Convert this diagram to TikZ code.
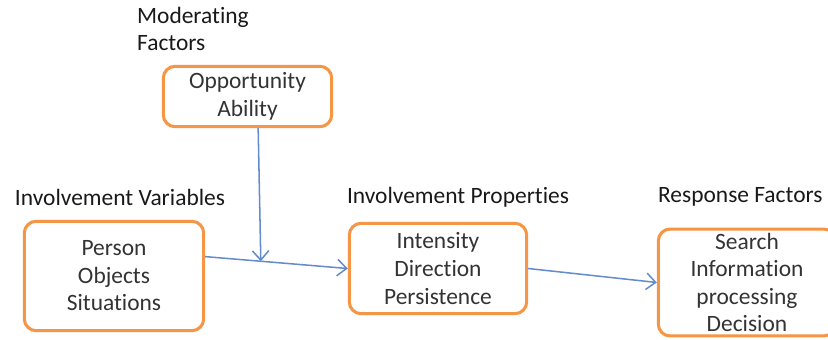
\documentclass[tikz,border=0pt]{standalone}
\usepackage{fontspec}
\setmainfont{Carlito}[Ligatures=NoCommon]
\usetikzlibrary{arrows.meta}
\definecolor{boxorange}{RGB}{244,150,70}
\definecolor{lineblue}{RGB}{100,140,205}

\begin{document}
\begin{tikzpicture}[x=0.03cm,y=-0.03cm,
        bxorange/.style={draw=boxorange,line width=2.6pt,rounded corners=10pt,
          fill=white,align=center,text=black!80,font=\fontsize{20}{23.5}\selectfont},
        lbl/.style={align=left,text=black!90,font=\fontsize{20}{23}\selectfont},
        conn/.style={draw=lineblue,line width=1.3pt,-{Straight Barb[length=8pt,width=14pt]}}
      ]

      \useasboundingbox (0,0) rectangle (828,340);

      \node[lbl,anchor=north west] (modlbl) at (133,3) {Moderating\\Factors};
      \node[lbl] (varlbl) at (120,197) {Involvement Variables};
      \node[lbl] (proplbl) at (458,197) {Involvement Properties};
      \node[lbl,anchor=west] (resplbl) at (654,197) {Response Factors};

      \node[bxorange,minimum width=5.05cm,minimum height=1.81cm] (opp) at (247.5,96.5) {Opportunity\\Ability};
      \node[bxorange,minimum width=5.38cm,minimum height=3.28cm] (person) at (114,276) {Person\\Objects\\Situations};
      \node[bxorange,minimum width=5.32cm,minimum height=2.71cm] (intens) at (438,268.5) {Intensity\\Direction\\Persistence};
      \node[bxorange,minimum width=5.32cm,minimum height=3.19cm] (search) at (747,282.5) {Search\\Information\\processing\\Decision};

      \draw[conn] (person.12) -- coordinate[pos=0.39] (join) (intens.west);
      \draw[conn] (intens.east) -- (search.west);
      \draw[conn] ([xshift=0.32cm]opp.south) -- (join);

    \end{tikzpicture}
\end{document}
